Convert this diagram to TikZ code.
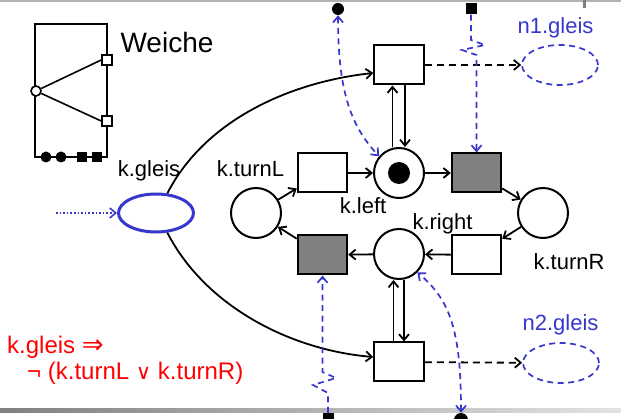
\documentclass[tikz,border=0pt]{standalone}
\usepackage{fontspec}
\setmainfont{Liberation Sans}
\newfontfamily\djv{DejaVu Sans}
\usetikzlibrary{arrows.meta,shapes.geometric,calc}
\definecolor{pblue}{RGB}{55,55,205}
\definecolor{pgrey}{RGB}{128,128,128}
\begin{document}
\begin{tikzpicture}[x=1pt,y=-1pt,
  >={Straight Barb[length=6pt,width=10pt]},
  place/.style={circle,draw,line width=2pt,fill=white,minimum size=50pt,inner sep=0pt},
  trans/.style={rectangle,draw,line width=2pt,fill=white,minimum width=49.5pt,minimum height=39pt,inner sep=0pt},
  gtrans/.style={trans,fill=pgrey},
  arcline/.style={line width=1.8pt,->},
  darc/.style={line width=1.8pt,->,dash pattern=on 7pt off 5pt},
  barc/.style={pblue,line width=1.7pt,dash pattern=on 6pt off 4.5pt},
  lbl/.style={font=\fontsize{22}{26}\selectfont,inner sep=0pt},
  blbl/.style={lbl,text=pblue},
  rlbl/.style={font=\fontsize{24}{28}\selectfont,text=red,inner sep=0pt,anchor=base west},
  dotn/.style={circle,fill=black,minimum size=12pt,inner sep=0pt},
  sqn/.style={rectangle,fill=black,minimum size=11pt,inner sep=0pt},
  wsq/.style={rectangle,draw,line width=1.6pt,fill=white,minimum size=10pt,inner sep=0pt},
  wdot/.style={circle,fill=black,minimum size=11pt,inner sep=0pt},
  wbox/.style={rectangle,fill=black,minimum size=10pt,inner sep=0pt},
]
\useasboundingbox (0,0) rectangle (621,419);
% slide decoration
\draw[line width=2pt,gray!60] (0,1) -- (621,1);
\draw[line width=3pt,gray] (584,0) -- (584,8);
\shade[left color=pgrey,right color=gray!22] (0,408) rectangle (621,412);

% Weiche icon
\draw[line width=1.6pt] (35,24) rectangle (107,157);
\node[wsq] (ws1) at (107,60) {};
\node[wsq] (ws2) at (107,121) {};
\node[circle,draw,line width=1.6pt,fill=white,minimum size=10pt,inner sep=0pt] (wc) at (36,91) {};
\draw[line width=1.6pt] (wc) -- (ws1.west);
\draw[line width=1.6pt] (wc) -- (ws2.west);
\node[wdot] (wd1) at (46,157) {};
\node[wdot] (wd2) at (61,157) {};
\node[wbox] (wb1) at (82,157) {};
\node[wbox] (wb2) at (97,157) {};
\node[font=\fontsize{28}{32}\selectfont,inner sep=0pt] (wtitle) at (167,42) {Weiche};

% places
\node[place] (kleft) at (399,173) {};
\node[circle,fill=black,minimum size=22pt,inner sep=0pt] (tok) at (kleft) {};
\node[place] (kturnL) at (256,213) {};
\node[place] (kturnR) at (543,213) {};
\node[place] (kright) at (399,254) {};
\node[ellipse,draw=pblue,line width=3pt,fill=white,minimum width=75pt,minimum height=38pt,inner sep=0pt] (kgleis) at (156,213) {};
\node[ellipse,draw=pblue,line width=1.7pt,dash pattern=on 6pt off 4.5pt,minimum width=76pt,minimum height=40pt,inner sep=0pt] (n1) at (560,65) {};
\node[ellipse,draw=pblue,line width=1.7pt,dash pattern=on 6pt off 4.5pt,minimum width=76pt,minimum height=40pt,inner sep=0pt] (n2) at (561,363) {};

% transitions
\node[trans] (ttop) at (399,65) {};
\node[trans] (tbot) at (399,362) {};
\node[trans] (ttl) at (322.5,173) {};
\node[gtrans] (tgr) at (476.5,173) {};
\node[gtrans] (tbl) at (322.5,255) {};
\node[trans] (tbr) at (476.5,255) {};

% labels
\node[lbl] (lgleis) at (149,171) {k.gleis};
\node[lbl] (lturnL) at (250.5,168.5) {k.turnL};
\node[lbl] (lleft) at (363,205.5) {k.left};
\node[lbl] (lright) at (442.5,223.5) {k.right};
\node[lbl] (lturnR) at (569,262) {k.turnR};
\node[blbl] (ln1) at (555.5,27.5) {n1.gleis};
\node[blbl] (ln2) at (560.5,325) {n2.gleis};
\node[rlbl] (f1) at (7,354) {k.gleis {\djv\fontsize{26}{26}\selectfont ⇒}};
\node[rlbl] (f2) at (27,380) {¬ (k.turnL {\djv\fontsize{21}{21}\selectfont ∨} k.turnR)};

% net arcs
\draw[arcline] (kleft) -- (tgr);
\draw[arcline] (tgr) -- (kturnR);
\draw[arcline] (kturnR) -- (tbr);
\draw[arcline] (tbr) -- (kright);
\draw[arcline] (kright) -- (tbl);
\draw[arcline] (tbl) -- (kturnL);
\draw[arcline] (kturnL) -- (ttl);
\draw[arcline] (ttl) -- (kleft);
\draw[arcline] ([xshift=-6.5pt]kleft.north) -- ([xshift=-6.5pt]ttop.south);
\draw[arcline] ([xshift=6pt]ttop.south) -- ([xshift=6pt]kleft.north);
\draw[arcline] ([xshift=-5.5pt]tbot.north) -- ([xshift=-5.5pt]kright.south);
\draw[arcline] ([xshift=5pt]kright.south) -- ([xshift=5pt]tbot.north);
\draw[arcline] (kgleis.60) .. controls (205,120) and (290,82) .. ([yshift=-8pt]ttop.west);
\draw[arcline] (kgleis.-60) .. controls (205,306) and (290,350) .. ([yshift=5pt]tbot.west);
\draw[darc] (ttop) -- (n1);
\draw[darc] (tbot) -- (n2);

% blue read/inhibitor connectors
\coordinate (src) at (56,213);
\draw[pblue,line width=1.6pt,dotted,->] (src) -- (kgleis);
\node[dotn] (d1) at (338,9) {};
\node[sqn] (s1) at (471,9) {};
\node[sqn] (s2) at (328,418.5) {};
\node[dotn,minimum size=14pt] (d2) at (461,420) {};
\draw[barc,<->] (d1) .. controls (338,90) and (350,125) .. (kleft.140);
\draw[barc,->] (s1) -- (471,40) -- (485,45) -- (462,50) -- (476.5,55) -- (tgr.north);
\draw[barc,->] (s2) -- (328,393) -- (313,385) -- (336,378) -- (322.5,372) -- (tbl.south);
\draw[barc,<->] (d2) .. controls (461,330) and (450,300) .. (kright.-45);
\end{tikzpicture}
\end{document}
